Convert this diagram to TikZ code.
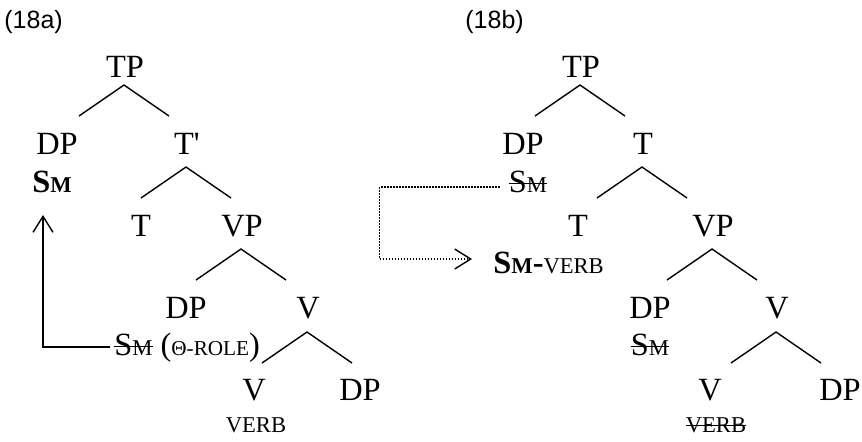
\documentclass[tikz,border=0pt]{standalone}
\usepackage{fontspec}
\setmainfont{Liberation Serif}
\newfontfamily\labelfont{Liberation Sans}
\usetikzlibrary{calc,arrows.meta}
\newcommand{\smc}[1]{{\fontsize{11.3}{12}\selectfont #1}}
\newcommand{\Sm}{S\smc{M}}
\newsavebox\strikebox
\newcommand{\strike}[1]{\sbox\strikebox{#1}\rlap{\rule[0.55ex]{\wd\strikebox}{0.5pt}}\usebox\strikebox}
% fork below a node: #1 node, #2 drop of the apex
\newcommand{\fork}[2]{%
  \draw[branch] ($(#1.base)+(-46,#2+31)$) -- ($(#1.base)+(-1,#2)$) -- ($(#1.base)+(44,#2+31)$);}
\begin{document}
\begin{tikzpicture}[x=0.5pt,y=-0.5pt,
    lbl/.style={font=\fontsize{16.2}{18}\selectfont, inner sep=0pt, anchor=base},
    ex/.style={font=\labelfont\fontsize{12.5}{14}\selectfont, inner sep=0pt, anchor=base west},
    branch/.style={line width=0.7pt},
    move/.style={line width=0.7pt, -{Straight Barb[length=8pt,width=10pt]}},
    dots/.style={dash pattern=on 0.75pt off 0.75pt}]
    \useasboundingbox (0,0) rectangle (862,441);

    %(18a)
    \node[ex] (exa) at (4,28) {(18a)};
    \node[lbl] (TPa)  at (125,77)  {TP};
    \node[lbl] (DPa)  at (57,154)  {DP};
    \node[lbl] (Sma)  at (52,192)  {\textbf{\Sm}};
    \node[lbl] (TBa)  at (187,154) {T\textquotesingle};
    \node[lbl] (Ta)   at (141,236) {T};
    \node[lbl] (VPa)  at (242,236) {VP};
    \node[lbl] (DPb)  at (186,318) {DP};
    \node[lbl] (Va)   at (308,318) {V};
    \node[lbl, anchor=base west] (Smrole) at (114,355)
        {\strike{\Sm} ({\fontsize{10.6}{12}\selectfont Θ-ROLE})};
    \node[lbl] (Vb)   at (254,400) {V};
    \node[lbl] (DPc)  at (360,400) {DP};
    \node[lbl] (VERBa) at (256,432) {\smc{VERB}};
    \fork{TPa}{8}
    \fork{TBa}{13}
    \fork{VPa}{13}
    \fork{Va}{14}
    \draw[move] ($(Smrole.base west)+(-4,-8)$) -| ($(Sma.base)+(-9,23)$);

    %(18b)
    \node[ex] (exb) at (465,28) {(18b)};
    \node[lbl] (TPb)  at (581,77)  {TP};
    \node[lbl] (DPd)  at (523,154) {DP};
    \node[lbl] (Smb)  at (528,192) {\strike{\Sm}};
    \node[lbl] (Tb)   at (643,154) {T};
    \node[lbl] (Tc)   at (578,236) {T};
    \node[lbl] (VPb)  at (713,236) {VP};
    \node[lbl, anchor=base west] (SmVerb) at (493,273) {\textbf{\Sm-}\smc{VERB}};
    \node[lbl] (DPe)  at (650,318) {DP};
    \node[lbl] (Vc)   at (777,318) {V};
    \node[lbl] (Smc)  at (650,355) {\strike{\Sm}};
    \node[lbl] (Vd)   at (710,400) {V};
    \node[lbl] (DPf)  at (840,400) {DP};
    \node[lbl] (VERBb) at (716,432) {\smc{\strike{VERB}}};
    \fork{TPb}{8}
    \fork{Tb}{13}
    \fork{VPb}{13}
    \fork{Vc}{14}
    \draw[move, dots] ($(Smb.base west)+(-9,-5)$) -- ++(-120,0) |- ($(SmVerb.base west)+(-21,-14)$);
\end{tikzpicture}
\end{document}
